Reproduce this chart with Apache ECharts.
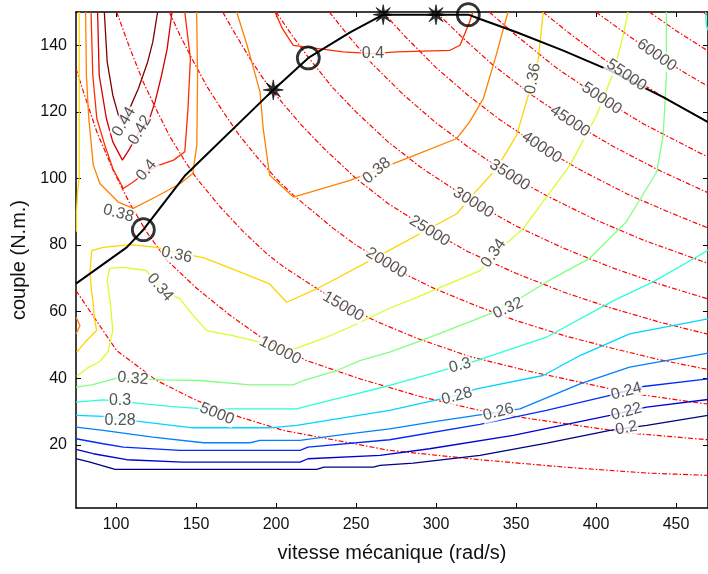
<!DOCTYPE html>
<html>
<head>
<meta charset="utf-8">
<script src="https://cdn.jsdelivr.net/npm/echarts@6/dist/echarts.min.js"></script>
<style>
  html, body { margin: 0; padding: 0; background: #fff; }
  #chart { width: 708px; height: 574px; }
</style>
</head>
<body>
<div id="chart"></div>
<script>
// tick labels
const xTicks = [100, 150, 200, 250, 300, 350, 400, 450];
const yTicks = [20, 40, 60, 80, 100, 120, 140];

// efficiency contours [vitesse, couple]
const eff020 = [[75,15.8],[83.75,14.8],[99.4,12.6],[225.4,12.6],[230,13.3],[260.8,13.3],[265,13.8],[285.8,14.5],[327.5,16.8],[369.2,20.5],[408.75,24.3],[431.7,25.8],[470,28.8]];
const eff022 = [[75,18.6],[85.8,17.3],[106.7,15.5],[142,14.8],[215,14.8],[220,15.8],[265,16.8],[296,18.8],[348.3,22.8],[408.75,28.8],[431.7,31.3],[470,33.6]];
const eff024 = [[75,21.8],[92,20.3],[104.6,19.3],[140,18.3],[215,18.3],[220,19.3],[271,21.5],[327.5,26.1],[369,30.3],[408.75,34.8],[429.6,37.5],[470,39.8]];
const eff026 = [[75,25.3],[92,24.3],[123,22.3],[154.6,20.6],[183.75,20.6],[190,21.3],[215,21.3],[238,22.8],[271,24.8],[300,27],[339,29.8],[352.5,30.8],[390,38.3],[421,43.3],[470,47.5]];
const eff028 = [[75,28.8],[92,28.5],[113,27.1],[148,25.1],[196,25.1],[213,25.8],[238,27.8],[271,30.3],[313,34.8],[325.4,36.8],[367,40.8],[390,46.8],[421,53.3],[470,57.8]];
const eff030 = [[75,32.8],[92,33.5],[113,32.5],[133.75,31.5],[154.6,30.8],[213,30.8],[221,31.8],[242,34.3],[271,37.8],[315,43.8],[325.4,45.3],[369,52.3],[411,63.3],[436,69],[465,77],[470,78.5]];
const eff030b = [[468.5,150],[469,146],[470,144.5]];
const eff032 = [[75,37.3],[85,38],[100.4,40],[130,39.5],[152.5,39.3],[183.75,38],[210.8,38],[217,39.3],[238,42.3],[252.5,45.3],[271,47.8],[292,51.5],[333.75,59.3],[352.5,64],[373,70],[396,76],[419,87],[438,102],[442,113],[444,131],[444,150]];
const eff034 = [[75.4,40.6],[82,43],[90,45],[95,48],[98,54.3],[96.5,62.3],[94.5,69.3],[96,73],[104.6,73.3],[112,72.8],[119,72.3],[130,66],[140,63.8],[148,59],[156.7,54.3],[173,52.8],[190,50.8],[208.75,48.3],[230,52],[246,55.3],[271,61],[288,64.3],[327.5,72.3],[338,78],[354.6,85],[383.75,104],[400.4,119],[411,132],[417,143],[420,150]];
const eff036a = [[77,150],[77,120],[77,100],[76,96],[75.3,90],[75.3,84]];
const eff036b = [[75.4,47.8],[81,51],[87.9,54.3],[86.5,58],[85.8,62.3],[84.5,67],[83.75,72.3],[84.8,78.3],[92,79.3],[108.75,80.1],[125.4,79.3],[140,77.5],[154.6,76.2],[175.4,72.3],[196,68.3],[206.7,62.8],[225.4,66.8],[267,77.4],[313,89.4],[321,94],[338,103],[350.4,113],[357.7,125],[364,136],[367,150]];
const eff038a = [[81,150],[81.5,131],[83,118],[85.8,104],[90,98.4],[96.25,95.4],[101.4,92.9],[110.8,91],[125,94.5],[140,98.4],[148,101.5],[150.5,110],[151,130],[150.4,150]];
const eff038b = [[175.4,150],[181.7,140.4],[186,133],[190,126],[192,115],[196,101],[210.8,94.4],[246.25,99.4],[263,102.5],[283.75,106.4],[313,112],[321,117],[329.6,124],[337,136],[345,150]];
const eff038c = [[75,58.3],[77.5,55.8],[75,53.3]];
const eff040a = [[84.4,150],[85.5,131],[88,118],[93,110],[98,103],[104.6,97],[111,99],[119,102],[127,104],[136,105.5],[143,108],[145,121],[146.5,136],[143,150]];
const eff040b = [[199.4,150],[204,145],[210.8,140],[242,138],[260,137.5],[275.4,138],[308.75,138.5],[315,140],[321,147],[323,150]];
const eff042 = [[88.5,150],[89.5,131],[94,118],[98,111],[104,105.5],[108,108.5],[115,114.5],[121,118],[124.4,123],[128.5,131],[132,139],[135,150]];
const eff044 = [[92.7,150],[94.5,135],[98,125],[101.5,119],[105,116.5],[109,121.5],[114,127],[119.8,135],[123,141],[126,150]];

// iso-power curves (W)
const pow5000 = [[75,66.3],[100.4,48.3],[125.4,39.3],[150.4,33.3],[177.5,28.3],[204.6,24.3],[238,21.3],[271,18.3],[327.5,15.5],[379.6,13.3],[431.7,11.5],[470,10.8]];
const pow10000 = [[75,133],[80,125.5],[88,114],[98.3,102.4],[108.75,92.4],[119,84],[131.7,75.5],[150.4,67],[171,59],[190,52.5],[219,45.3],[252.5,39.8],[290,34.5],[327.5,30.3],[359,27.8],[390,25.7],[421,23.5],[470,21.5]];
const pow15000 = [[100.4,150],[108.75,139],[117,129],[125.4,120.5],[133.75,112.5],[144,104.5],[150.4,100],[165,91.5],[179.6,84],[194,77.5],[204.6,73.5],[225.4,67],[242,62],[263,57],[288,52],[321,46.5],[359,42],[390,38.8],[421,35.5],[470,32.2]];
const pow20000 = [[133.3,150],[140,143],[148,135.5],[157,127.5],[167,120],[177,113],[188,106.5],[200,100],[210.8,95],[235.8,85],[250,80],[267,75],[283.75,70.5],[300,66.7],[327.5,61.3],[350,57.3],[380,52.8],[410,49],[440,45.5],[470,42.6]];
const pow25000 = [[166.7,150],[175,143],[183.75,136],[192,130],[200,125],[215,116.5],[230,109],[250,100],[270,92.5],[296,84.5],[320,78],[350,71.5],[380,65.8],[410,61],[440,56.8],[470,53.2]];
const pow30000 = [[200,150],[210,143],[220,136.5],[235,127.5],[250,120],[270,111],[290,103.5],[323,93],[350,85.7],[380,79],[410,73.2],[440,68.2],[470,63.8]];
const pow35000 = [[233.3,150],[245,143],[260,134.5],[280,125],[300,116.7],[320,109.5],[346,101],[370,94.6],[400,87.5],[430,81.4],[470,74.5]];
const pow40000 = [[266.7,150],[280,143],[300,133.3],[320,125],[340,117.6],[366,109.3],[390,102.6],[420,95.2],[445,90],[470,85.1]];
const pow45000 = [[300,150],[315,143],[335,134.3],[360,125],[383.75,117.3],[410,109.8],[440,102.3],[470,95.7]];
const pow50000 = [[333.3,150],[350,143],[375,133.3],[403.5,124],[430,116.3],[470,106.4]];
const pow55000 = [[366.7,150],[385,143],[405,135.8],[420,131],[445,123.6],[470,117]];
const pow60000 = [[400,150],[420,143],[437.9,137],[455,131.9],[470,127.7]];
const pow65000 = [[433.3,150],[450,144.4],[470,138.3]];
const pow70000 = [[466.7,150],[470,149]];

// max torque envelope and operating points
const envelope = [[75,68.4],[106.7,79.3],[117.1,84.6],[143,100.8],[198.3,126.6],[220.2,136.2],[246.3,143.9],[267,149.2],[300,149.2],[320.2,149.2],[327.5,147.9],[350.4,143.9],[379.6,138.4],[408.8,132.4],[442,124.4],[470,116.9]];
const circlePts = [[117.1,84.6],[220.2,136.2],[320.2,149.2]];
const starPts = [[198.3,126.6],[267,149.2],[300,149.2]];

// contour labels [x, y, text]
const effLabels = [
  [105,117,'0.44'],[115,114.5,'0.42'],[119,102.5,'0.4'],[101.5,89.5,'0.38'],
  [137.9,77,'0.36'],[127.5,67.3,'0.34'],[110.6,39.9,'0.32'],[102.5,33.3,'0.3'],[102.5,27.3,'0.28'],
  [315,43.8,'0.3'],[313,34.6,'0.28'],[339,29.8,'0.26'],[419,36,'0.24'],[419,29.9,'0.22'],[419,25,'0.2'],
  [345,61,'0.32'],[336,77.5,'0.34'],[360.6,130,'0.36'],[263,102.3,'0.38'],[260.6,137.5,'0.4']
];
const effLabelAngles = [60,60,50,-15,-12,-50,-5,0,0,15,15,15,15,15,10,25,55,80,40,0];
const powLabels = [
  [163,29.3,'5000'],[202.5,48.3,'10000'],[242,61.5,'15000'],[269,74.6,'20000'],[296,84.2,'25000'],
  [323.3,92.7,'30000'],[346,101,'35000'],[366,109.3,'40000'],[383.75,117.2,'45000'],
  [403.5,124,'50000'],[419,131,'55000'],[437.9,137,'60000']
];
const powLabelAngles = [-22,-27,-30,-31,-32,-32,-33,-34,-34,-34,-34,-35];

const effLines = [
  { color: '#000080', pieces: [eff020] },
  { color: '#0000d4', pieces: [eff022] },
  { color: '#002bff', pieces: [eff024] },
  { color: '#0080ff', pieces: [eff026] },
  { color: '#00d4ff', pieces: [eff028] },
  { color: '#2bffd4', pieces: [eff030, eff030b] },
  { color: '#80ff80', pieces: [eff032] },
  { color: '#d4ff2b', pieces: [eff034] },
  { color: '#ffd400', pieces: [eff036a, eff036b] },
  { color: '#ff8000', pieces: [eff038a, eff038b, eff038c] },
  { color: '#ff2b00', pieces: [eff040a, eff040b] },
  { color: '#d40000', pieces: [eff042] },
  { color: '#800000', pieces: [eff044] }
];
const powLines = [pow5000, pow10000, pow15000, pow20000, pow25000, pow30000, pow35000,
  pow40000, pow45000, pow50000, pow55000, pow60000, pow65000, pow70000];

// MATLAB-like '*' marker
const starPath = (() => {
  const pts = [];
  for (let i = 0; i < 16; i++) {
    const r = i % 2 ? 3.4 : 10;
    const a = i * Math.PI / 8 - Math.PI / 2;
    pts.push((r * Math.cos(a)).toFixed(2) + ' ' + (r * Math.sin(a)).toFixed(2));
  }
  return 'path://M' + pts.join(' L') + ' Z';
})();

const FONT = 'Liberation Sans, Arial, sans-serif';
const series = [];

powLines.forEach(p => series.push({
  type: 'line', data: p, showSymbol: false, silent: true, z: 2,
  lineStyle: { color: '#ff0000', width: 1.2, type: [5, 2, 1.5, 2] }
}));

effLines.forEach(c => c.pieces.forEach(p => series.push({
  type: 'line', data: p, showSymbol: false, silent: true, z: 3,
  lineStyle: { color: c.color, width: 1.3 }
})));

series.push({
  type: 'line', data: envelope, showSymbol: false, silent: true, z: 5,
  lineStyle: { color: '#000', width: 2 }
});
series.push({
  type: 'scatter', data: circlePts, symbol: 'circle', symbolSize: 22, z: 6, silent: true,
  itemStyle: { color: 'rgba(0,0,0,0)', borderColor: '#000', borderWidth: 2.8 }
});
series.push({
  type: 'scatter', data: starPts, symbol: starPath, symbolSize: 20, z: 6, silent: true,
  itemStyle: { color: '#000', borderColor: '#000', borderWidth: 0.8 }
});

const labelStyle = {
  show: true, position: 'inside', fontSize: 16, color: '#2a2a2a', fontFamily: FONT,
  backgroundColor: '#fff', padding: [0, 1]
};
series.push({
  type: 'scatter', symbolSize: 1, z: 8, silent: true,
  itemStyle: { color: 'rgba(0,0,0,0)' },
  label: labelStyle,
  data: effLabels.concat(powLabels).map((l, i) => ({
    value: [l[0], l[1]],
    label: {
      formatter: l[2],
      rotate: i < effLabels.length ? effLabelAngles[i] : powLabelAngles[i - effLabels.length]
    }
  }))
});

const chart = echarts.init(document.getElementById('chart'));
chart.setOption({
  animation: false,
  backgroundColor: '#fff',
  grid: { left: 76, right: 0, top: 12, bottom: 66 },
  xAxis: [{
    type: 'value', min: 75, max: 470,
    name: 'vitesse mécanique (rad/s)', nameLocation: 'middle', nameGap: 35,
    nameTextStyle: { fontSize: 20, color: '#111', fontFamily: FONT },
    axisLine: { lineStyle: { color: '#000', width: 1.5 } },
    axisTick: { inside: true, length: 5, customValues: xTicks, lineStyle: { color: '#000' } },
    axisLabel: { customValues: xTicks, fontSize: 16, color: '#111', fontFamily: FONT, margin: 9 },
    splitLine: { show: false }
  }, {
    type: 'value', min: 75, max: 470, position: 'top',
    axisLine: { show: true, lineStyle: { color: '#000', width: 1.5 } },
    axisTick: { inside: true, length: 5, customValues: xTicks, lineStyle: { color: '#000' } },
    axisLabel: { show: false },
    splitLine: { show: false }
  }],
  yAxis: [{
    type: 'value', min: 1, max: 150,
    name: 'couple (N.m.)', nameLocation: 'middle', nameGap: 44,
    nameTextStyle: { fontSize: 20, color: '#111', fontFamily: FONT },
    axisLine: { show: true, lineStyle: { color: '#000', width: 1.5 } },
    axisTick: { show: true, inside: true, length: 5, customValues: yTicks, lineStyle: { color: '#000' } },
    axisLabel: { customValues: yTicks, fontSize: 16, color: '#111', fontFamily: FONT, margin: 9 },
    splitLine: { show: false }
  }, {
    type: 'value', min: 1, max: 150, position: 'right',
    axisLine: { show: true, lineStyle: { color: '#000', width: 1.5 } },
    axisTick: { show: true, inside: true, length: 5, customValues: yTicks },
    axisLabel: { show: false },
    splitLine: { show: false }
  }],
  series: series
});
</script>
</body>
</html>
